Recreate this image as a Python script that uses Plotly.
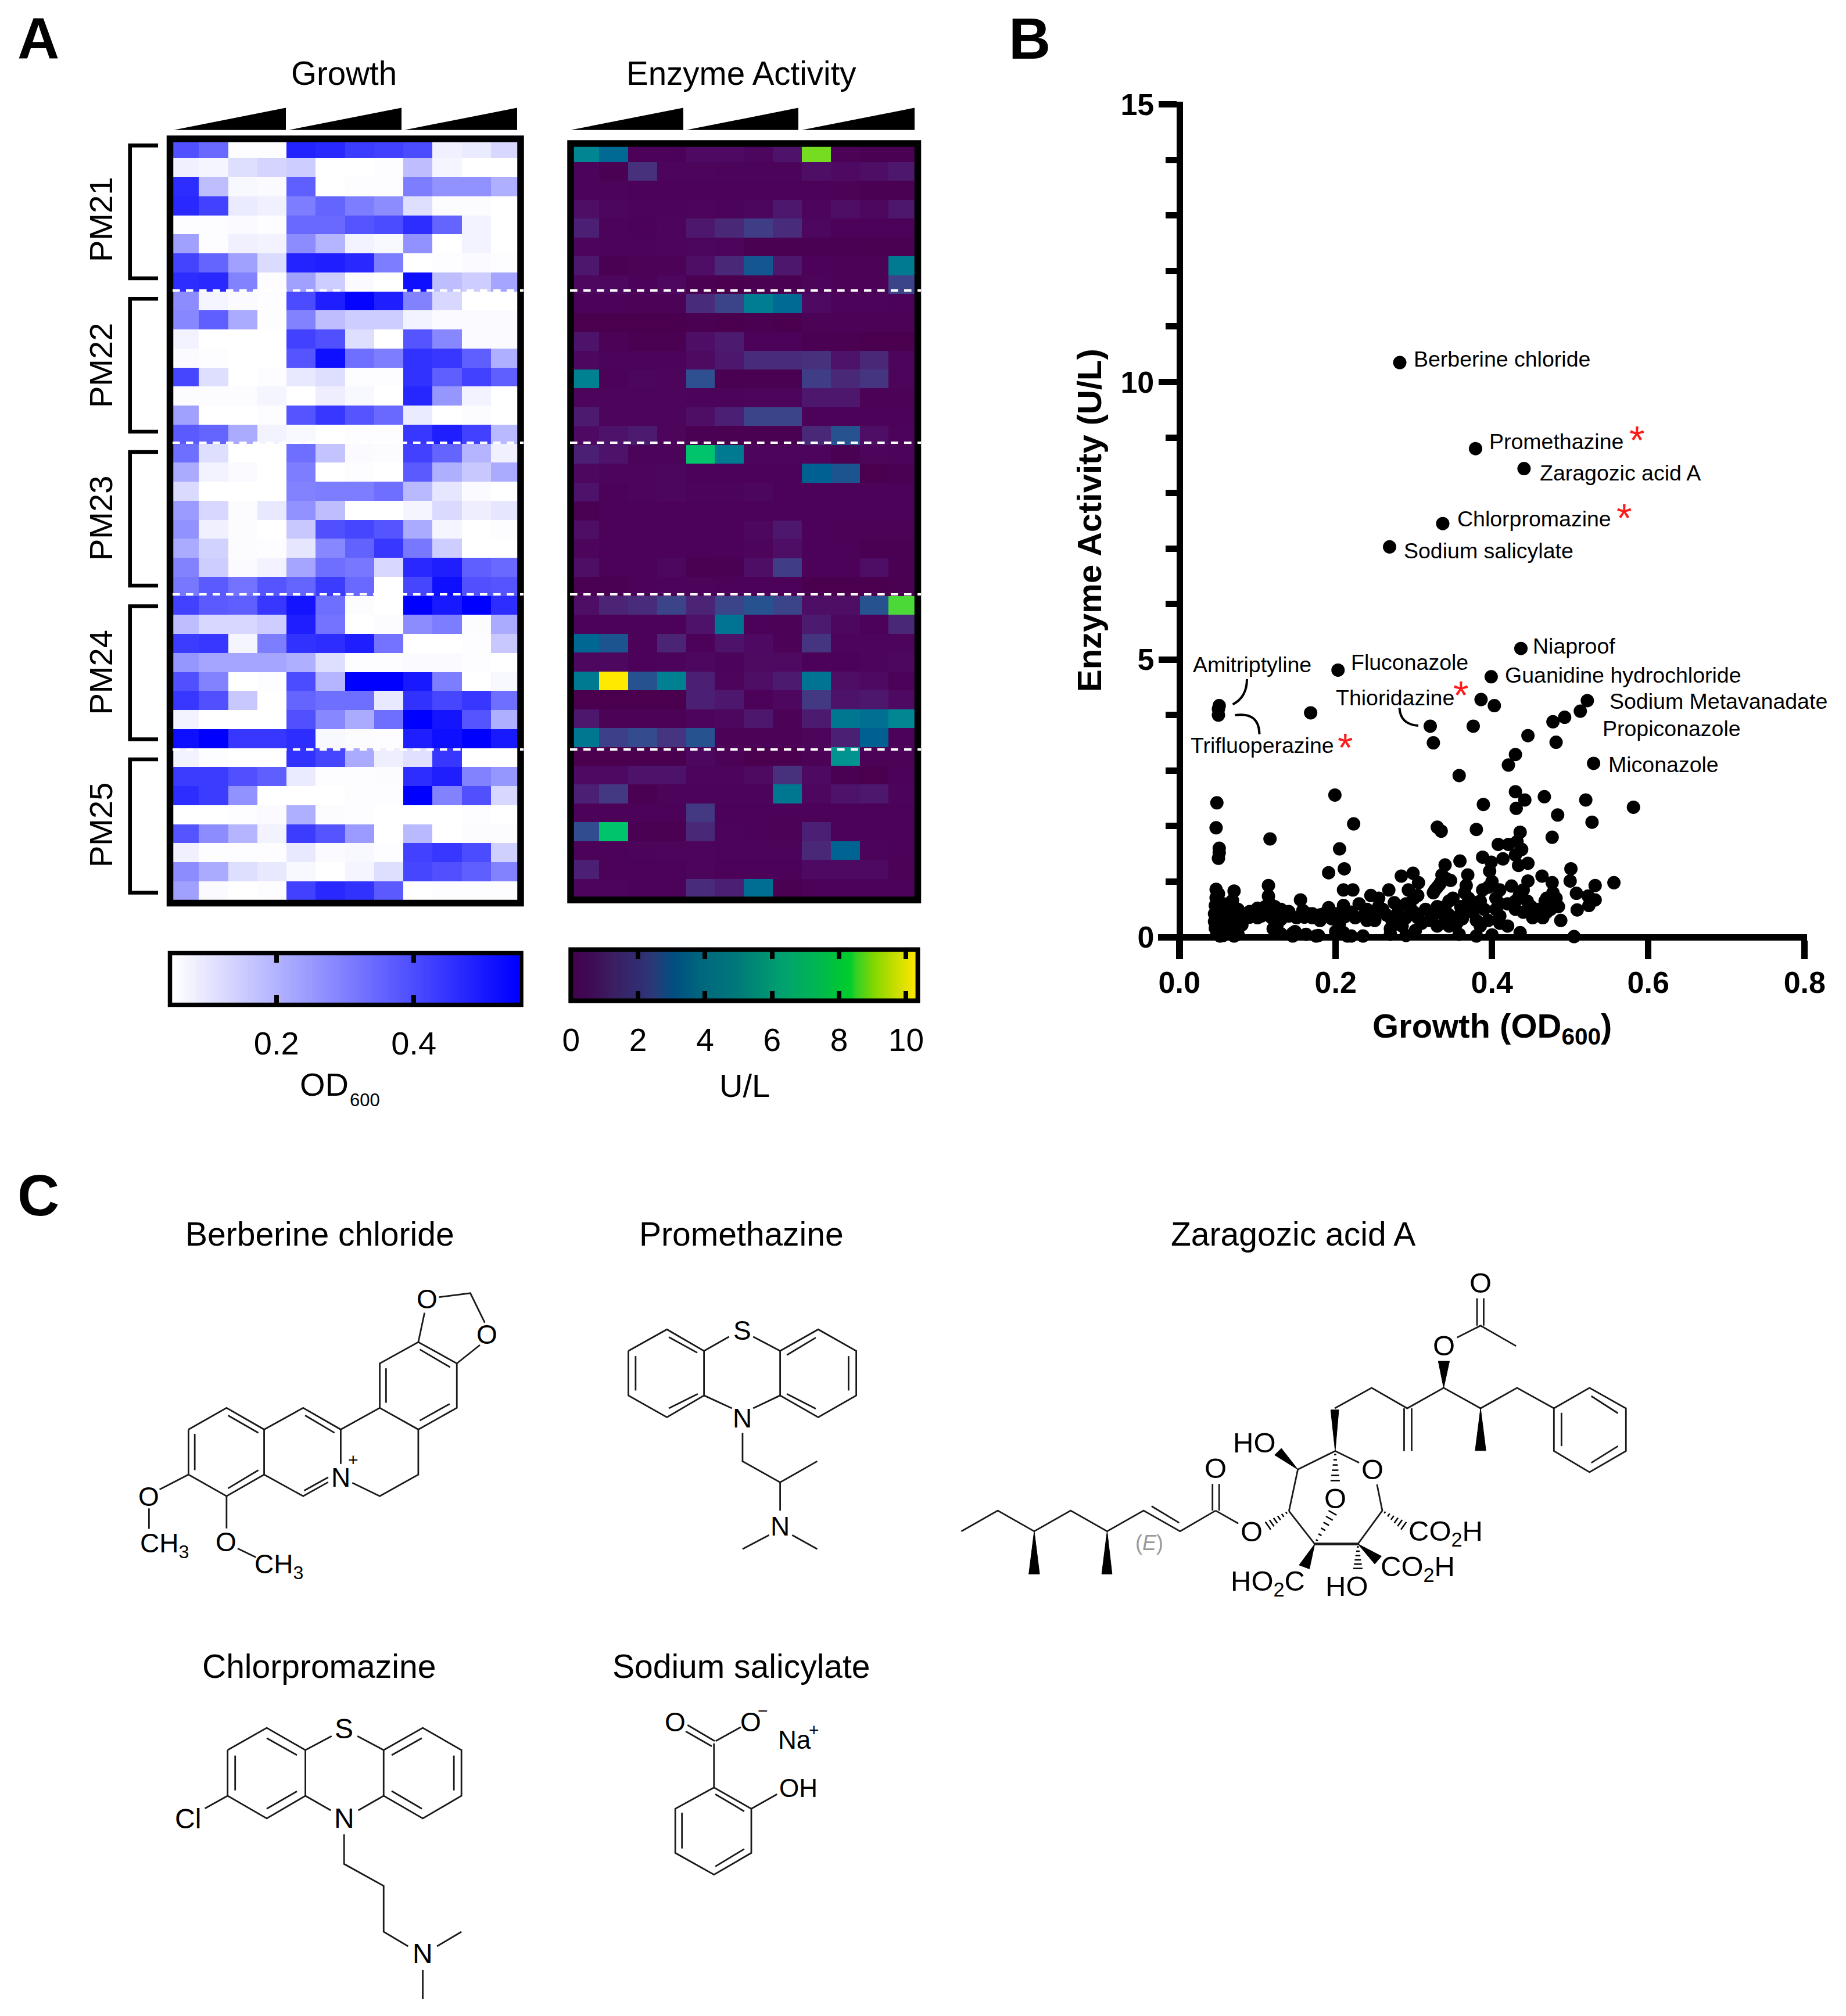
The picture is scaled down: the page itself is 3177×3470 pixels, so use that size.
import numpy as np
import plotly.graph_objects as go

W, H = 3177, 3470
FONT = "Liberation Sans"

# ---------- Growth (OD600) per plate, 8 compounds x 12 wells ----------
growth_pm21 = [
 [.393,.344,.054,.054,.481,.472,.432,.423,.403,.08,.09,.129],
 [.08,.07,.115,.134,.148,.05,.05,.054,.178,.07,.05,.05],
 [.462,.178,.064,.06,.364,.05,.054,.054,.305,.266,.266,.207],
 [.472,.423,.09,.08,.305,.354,.305,.276,.115,.056,.056,.05],
 [.054,.054,.06,.054,.344,.344,.383,.403,.462,.354,.074,.05],
 [.236,.054,.08,.074,.276,.197,.074,.064,.266,.05,.074,.05],
 [.417,.354,.236,.12,.481,.491,.472,.305,.05,.054,.06,.054],
 [.462,.472,.295,.054,.236,.148,.06,.05,.52,.178,.148,.227]]
growth_pm22 = [
 [.276,.07,.06,.054,.403,.491,.54,.491,.295,.129,.05,.05],
 [.285,.364,.217,.054,.295,.178,.148,.148,.074,.06,.06,.06],
 [.074,.05,.05,.05,.423,.393,.115,.05,.383,.285,.06,.06],
 [.06,.054,.05,.05,.383,.52,.334,.305,.452,.442,.364,.207],
 [.413,.115,.05,.054,.095,.115,.054,.054,.452,.364,.423,.364],
 [.056,.056,.056,.07,.05,.083,.064,.05,.475,.256,.074,.05],
 [.236,.05,.05,.054,.383,.442,.383,.344,.09,.05,.056,.05],
 [.374,.354,.217,.074,.064,.05,.054,.054,.442,.491,.423,.187]]
growth_pm23 = [
 [.334,.115,.05,.05,.334,.168,.06,.056,.423,.354,.197,.08],
 [.217,.074,.06,.05,.305,.05,.054,.05,.374,.207,.158,.217],
 [.123,.05,.05,.05,.295,.305,.305,.334,.187,.099,.06,.05],
 [.246,.129,.056,.095,.266,.178,.05,.05,.07,.123,.083,.099],
 [.266,.08,.056,.05,.158,.393,.413,.383,.217,.07,.05,.054],
 [.217,.138,.056,.054,.099,.285,.358,.442,.315,.148,.05,.05],
 [.295,.148,.06,.074,.227,.334,.315,.129,.472,.491,.364,.344],
 [.315,.374,.325,.383,.354,.432,.344,.05,.413,.52,.393,.383]]
growth_pm24 = [
 [.423,.374,.364,.442,.511,.334,.056,.05,.55,.501,.55,.462],
 [.178,.129,.129,.148,.491,.325,.05,.056,.276,.305,.056,.217],
 [.432,.442,.07,.305,.452,.462,.491,.325,.05,.05,.054,.158],
 [.256,.227,.227,.227,.207,.115,.054,.054,.06,.06,.054,.05],
 [.393,.295,.05,.054,.403,.197,.55,.55,.501,.305,.05,.064],
 [.442,.393,.158,.05,.354,.334,.334,.095,.452,.413,.442,.334],
 [.074,.05,.05,.05,.393,.285,.217,.334,.55,.511,.383,.207],
 [.52,.55,.442,.442,.462,.064,.056,.054,.491,.52,.55,.501]]
growth_pm25 = [
 [.074,.054,.05,.05,.452,.413,.217,.083,.109,.442,.05,.05],
 [.432,.432,.393,.364,.09,.054,.054,.056,.462,.491,.295,.256],
 [.462,.432,.266,.05,.05,.05,.054,.054,.55,.295,.393,.129],
 [.05,.05,.054,.06,.207,.056,.054,.05,.05,.05,.054,.05],
 [.383,.276,.197,.074,.432,.383,.246,.05,.187,.05,.056,.056],
 [.08,.054,.054,.054,.095,.06,.064,.054,.423,.442,.403,.142],
 [.276,.217,.115,.095,.064,.05,.07,.115,.413,.393,.364,.295],
 [.236,.06,.05,.054,.423,.472,.452,.374,.05,.054,.054,.054]]

# ---------- Enzyme activity (U/L) ----------
enzyme_pm21 = [
 [4.3,3.5,.2,.2,.5,.5,.35,.7,8.7,.15,.1,.1],
 [.25,.1,1.4,.3,.3,.25,.25,.25,.6,.5,.6,.8],
 [.25,.25,.2,.2,.2,.2,.2,.2,.2,.15,.1,.1],
 [.6,.35,.25,.25,.3,.25,.35,.8,.3,.6,.4,.8],
 [1.0,.25,.2,.3,.8,1.2,1.8,1.3,.4,.2,.2,.2],
 [.3,.25,.25,.3,.35,.3,.05,.05,.1,.1,.05,.05],
 [.8,.1,.15,.15,.6,1.2,2.8,.8,.2,.15,.15,4.0],
 [.4,.4,.2,.4,.05,.02,.05,.05,.25,.15,.15,2.0]]
enzyme_pm22 = [
 [.2,.2,.15,.15,1.3,2.0,4.1,3.5,.5,.25,.25,.2],
 [.02,.02,.02,.02,.05,.02,.05,.02,.15,.15,.15,.15],
 [.7,.15,.05,.05,.6,.9,.2,.2,.1,.05,.02,.02],
 [.4,.25,.25,.25,.45,.8,1.3,1.3,1.4,.7,1.2,.3],
 [4.2,.2,.35,.3,2.5,.05,.05,.05,1.8,1.2,1.5,.3],
 [.3,.3,.3,.3,.25,.25,.3,.3,.8,.8,.15,.15],
 [.9,.3,.3,.3,.6,1.0,2.0,2.0,.2,.2,.2,.2],
 [.5,.7,.9,.3,.1,.05,.05,.05,1.2,2.6,.6,.25]]
enzyme_pm23 = [
 [1.0,.7,.25,.25,7.6,4.0,.3,.3,.3,.1,.3,.25],
 [.4,.3,.3,.35,.2,.2,.2,.2,3.2,2.7,.02,.1],
 [.7,.2,.3,.35,.25,.25,.35,.2,.2,.2,.2,.2],
 [.1,.2,.2,.2,.2,.2,.2,.2,.2,.2,.2,.2],
 [.6,.2,.2,.2,.2,.2,.4,.8,.2,.15,.15,.15],
 [.3,.2,.2,.2,.2,.2,.3,.6,.2,.2,.1,.1],
 [.6,.2,.2,.4,.05,.1,.6,1.8,.2,.2,.6,.1],
 [.1,.1,.2,.25,.25,.2,.2,.2,.02,.02,.02,.05]]
enzyme_pm24 = [
 [.6,1.1,1.3,2.0,1.1,2.0,2.6,2.0,.6,.6,2.6,8.4],
 [.2,.2,.2,.2,.7,3.8,.2,.15,.9,.4,.2,1.2],
 [3.4,2.7,.2,1.1,.2,.7,.5,.15,1.5,.3,.3,.3],
 [.4,.4,.2,.25,.4,.25,.45,.45,.2,.2,.3,.4],
 [4.0,10.3,2.6,4.2,1.0,.3,.6,.9,3.8,.6,.5,.2],
 [.02,.02,.02,.02,1.0,.8,.2,.4,1.6,.7,.8,.5],
 [.8,.15,.15,.15,.3,.4,.8,.15,.9,3.9,3.7,4.4],
 [3.9,1.9,2.3,1.5,2.6,.15,.15,.15,.3,1.0,3.2,.2]]
enzyme_pm25 = [
 [.02,.02,.02,.02,.4,.15,.02,.02,.15,5.0,.15,.15],
 [.5,.5,.7,.7,.3,.3,.45,1.4,.5,.1,.02,.2],
 [1.0,1.6,.1,.25,.25,.25,.25,3.9,.4,.7,.8,.25],
 [.2,.2,.2,.2,1.6,.2,.2,.2,.2,.2,.2,.2],
 [2.4,7.6,.1,.05,1.2,.25,.2,.15,1.0,.2,.2,.2],
 [.2,.2,.25,.3,.3,.25,.25,.25,1.2,3.3,.25,.2],
 [1.0,.2,.2,.2,.3,.2,.2,.2,.5,.5,.5,.15],
 [.3,.3,.2,.2,1.3,1.0,3.6,.05,.2,.2,.2,.2]]

# ---------- Scatter: growth vs. enzyme activity ----------
scatter_high = [
 (.282,10.35),(.379,8.8),(.441,8.44),(.337,7.45),(.269,7.03),
 (.203,4.81),(.399,4.69),(.437,5.2),(.051,4.17),(.05,4.11),(.05,4.0),(.168,4.04),
 (.386,4.28),(.403,4.17),(.522,4.26),(.513,4.07),(.493,3.96),(.478,3.88),(.321,3.8),
 (.376,3.8),(.446,3.63),(.325,3.5),(.482,3.51),(.43,3.29),(.421,3.1),(.53,3.13),
 (.358,2.91),(.43,2.62),(.442,2.47),(.467,2.53),(.52,2.47),(.581,2.34),(.389,2.39),
 (.431,2.32),(.199,2.56),(.048,2.42),(.484,2.2),(.528,2.07),(.223,2.04),(.047,1.97),
 (.33,1.98),(.335,1.91),(.38,1.94),(.436,1.89),(.477,1.8),(.116,1.77),(.051,1.6),
 (.05,1.42),(.051,1.52),(.205,1.59),(.408,1.67),(.421,1.67),(.432,1.72),(.438,1.58),
 (.43,1.48),(.434,1.29),(.446,1.33),(.388,1.44),(.414,1.41),(.399,1.35),(.397,1.19),
 (.359,1.37),(.34,1.3),(.211,1.23),(.191,1.16),(.284,1.1),(.299,1.15),(.306,.98),
 (.336,1.12),(.347,1.02),(.333,.95),(.327,.85),(.369,1.12),(.367,.93),(.501,1.23),
 (.5,1.01),(.464,1.1),(.477,.98),(.446,1.01),(.556,.98),(.532,.93),(.508,.79),
 (.532,.67),(.523,.74),(.524,.57),(.509,.49),(.114,.93),(.114,.74)]
scatter_low = [
 (.047,.86),(.047,.71),(.046,.57),(.045,.42),(.045,.28),(.046,.16),(.05,.78),(.053,.62),(.05,.5),(.052,.35),
 (.05,.2),(.048,.05),(.052,.02),(.056,.03),(.058,.45),(.06,.3),(.055,.12),(.062,.6),(.07,.83),(.068,.66),
 (.067,.5),(.07,.35),(.068,.22),(.072,.1),(.07,.02),(.075,.05),(.08,.22),(.08,.4),(.085,.42),(.09,.36),
 (.095,.43),(.1,.52),(.105,.38),(.11,.55),(.115,.45),(.118,.35),(.122,.55),(.128,.42),(.13,.32),(.12,.15),
 (.125,.1),(.13,.06),(.115,.62),(.14,.38),(.145,.02),(.148,.1),(.15,.35),(.155,.67),(.158,.48),(.16,.36),
 (.162,.05),(.17,.35),(.178,.03),(.175,.02),(.18,.3),(.19,.38),(.191,.53),(.195,.33),(.2,.1),(.205,.25),
 (.21,.57),(.212,.37),(.215,.02),(.21,.85),(.222,.85),(.22,.45),(.225,.35),(.23,.6),(.235,.02),(.24,.5),
 (.24,.3),(.245,.75),(.25,.3),(.255,.7),(.26,.5),(.265,.4),(.268,.85),(.27,.15),(.27,.05),(.272,.3),
 (.275,.62),(.28,.45),(.285,.2),(.29,.03),(.29,.35),(.293,.85),(.295,.55),(.3,.7),(.302,.12),(.305,.35),
 (.305,.75),(.31,.25),(.315,.5),(.32,.3),(.325,.4),(.33,.2),(.33,.55),(.325,.8),(.33,.9),(.335,1.0),
 (.34,.55),(.342,1.05),(.345,.4),(.345,.2),(.35,.7),(.35,.3),(.355,.25),(.358,.05),(.36,.55),(.362,.33),
 (.365,.8),(.375,.55),(.375,.45),(.38,.02),(.38,.3),(.385,.65),(.385,.2),(.388,.85),(.39,.5),(.395,.9),
 (.4,.04),(.4,1.0),(.405,.7),(.405,.5),(.41,.85),(.41,.38),(.42,.6),(.425,.92),(.43,.5),(.435,.75),
 (.44,.85),(.44,.45),(.436,.08),(.445,.65),(.45,.55),(.452,.35),(.46,.5),(.465,.35),(.468,.65),(.47,.7),
 (.475,.5),(.478,.8),(.48,.6),(.482,.7),(.485,.55),(.488,.3),(.505,.01),(.42,.2),(.41,.25),(.395,.3),
 (.41,.6),(.36,.42),(.345,.65),(.28,.25),(.275,.35),(.29,.6),(.3,.45),(.25,.42),(.255,.55),(.235,.38),
 (.2,.42),(.185,.42),(.165,.42),(.14,.46),(.13,.5),(.1,.35),(.09,.46),(.075,.5),(.065,.4),(.12,.47),
 (.06,.55),(.05,.4),(.05,.65),(.055,.25),(.06,.18),(.145,.07),(.125,.22),(.18,.4),(.22,.02),(.21,.08),
 (.175,.38),(.17,.42),(.2,.35),(.33,.45),(.34,.35),(.37,.7),(.38,.62),(.43,.65),(.46,.42),(.47,.45)]
compound_labels = [
 ("Berberine chloride",2431,618),("Promethazine",2561,760),("Zaragozic acid A",2648,814),
 ("Chlorpromazine",2506,893),("Sodium salicylate",2414,948),("Niaproof",2636,1112),
 ("Amitriptyline",2051,1144),("Fluconazole",2323,1140),("Guanidine hydrochloride",2588,1162),
 ("Thioridazine",2297,1201),("Sodium Metavanadate",2768,1207),("Propiconazole",2756,1254),
 ("Trifluoperazine",2047,1283),("Miconazole",2766,1316)]
star_positions = [(2817,757),(2795,891),(2514,1196),(2315,1286)]

plates = ["PM21","PM22","PM23","PM24","PM25"]
growth_rows = growth_pm21+growth_pm22+growth_pm23+growth_pm24+growth_pm25
enzyme_rows = enzyme_pm21+enzyme_pm22+enzyme_pm23+enzyme_pm24+enzyme_pm25

growth_scale = [[0,"#ffffff"],[1,"#0000ff"]]
ENZ_MAX = 10.3
def nscale(st): return [[v/ENZ_MAX,c] for v,c in st]
enzyme_cell_scale = nscale([(0,"#4a004e"),(.2,"#4c0258"),(.5,"#4e0a62"),(.9,"#4c1b70"),(1.2,"#4a2878"),
 (1.5,"#453580"),(1.9,"#3d4088"),(2.5,"#2f5090"),(3,"#005a90"),(3.5,"#006a94"),(4,"#007a90"),
 (4.3,"#008592"),(5,"#009390"),(6,"#00a880"),(7.6,"#00c46b"),(8.4,"#4bd938"),(8.7,"#75dc1f"),(10.3,"#ffe900")])
enzyme_bar_scale = nscale([(0,"#45004f"),(.6,"#3f0b55"),(1.28,"#3a1f62"),(2,"#322c72"),(2.47,"#2a3a78"),
 (3.07,"#004f80"),(3.93,"#00687e"),(4.93,"#00787a"),(5.6,"#008b74"),(6.25,"#00a070"),(7.25,"#00b455"),
 (8.37,"#00ce28"),(8.5,"#30d025"),(9.1,"#88d800"),(9.7,"#c8de00"),(10.3,"#ffe600")])

def dx(a,b): return [a/W,b/W]
def dy(a,b): return [1-b/H,1-a/H]

fig = go.Figure()
cells = list(range(12)); rows = list(range(40))
fig.add_trace(go.Heatmap(z=growth_rows,x=cells,y=rows,zmin=.05,zmax=.55,colorscale=growth_scale,showscale=False,xaxis="x",yaxis="y"))
fig.add_trace(go.Heatmap(z=enzyme_rows,x=cells,y=rows,zmin=0,zmax=ENZ_MAX,colorscale=enzyme_cell_scale,showscale=False,xaxis="x2",yaxis="y2"))
od_ramp = np.linspace(.048,.553,300)
fig.add_trace(go.Heatmap(z=[od_ramp],x=od_ramp,y=[.5],dy=1,zmin=.05,zmax=.55,colorscale=growth_scale,showscale=False,xaxis="x3",yaxis="y3"))
ul_ramp = np.linspace(0,10.3,400)
fig.add_trace(go.Heatmap(z=[ul_ramp],x=ul_ramp,y=[.5],dy=1,zmin=0,zmax=ENZ_MAX,colorscale=enzyme_bar_scale,showscale=False,xaxis="x4",yaxis="y4"))
pts = scatter_low+scatter_high
fig.add_trace(go.Scatter(x=[p[0] for p in pts],y=[p[1] for p in pts],mode="markers",marker=dict(size=23,color="black"),cliponaxis=False,xaxis="x5",yaxis="y5",showlegend=False))

# ---------- chemical structures (zoomed-crop coordinates) ----------
def z8(X,Y): return (200+X/1.206,2160+Y/2.613)
def z9(X,Y): return (1620+X/1.307,2160+Y/2.613)
def z10(X,Y): return (280+X/1.307,2960+Y/3)
def z12(X,Y): return (1080+X/3,2840+Y/3)

berberine = [
 [(150,785),(229,688),(307,785),(307,988),(229,1085),(150,988),(150,785)],
 [(163,805),(163,968)],[(232,722),(295,800)],[(295,968),(232,1050)],
 [(307,785),(388,688),(466,785),(466,940)],[(392,722),(453,800)],
 [(307,988),(388,1085),(440,1022)],[(390,1060),(440,1000)],
 [(466,785),(547,688),(627,785),(627,988),(547,1085),(490,1025)],
 [(547,688),(547,488),(627,392),(707,488),(707,688),(627,785)],
 [(560,665),(560,510)],[(630,425),(693,505)],[(692,670),(630,745)],
 [(627,392),(640,260)],[(707,488),(755,405)],[(670,190),(735,172),(765,305)],
 [(150,988),(90,1055)],[(68,1140),(68,1232)],[(229,1085),(229,1230)],[(252,1320),(290,1360)]]
promethazine = [
 [(1063,432),(1143,335),(1220,432),(1220,632),(1143,730),(1063,632),(1063,432)],
 [(1378,432),(1457,335),(1536,432),(1536,632),(1457,730),(1378,632),(1378,432)],
 [(1220,432),(1272,368)],[(1378,432),(1322,368)],[(1220,632),(1278,690)],[(1378,632),(1322,690)],
 [(1078,455),(1078,610)],[(1147,370),(1206,440)],[(1207,625),(1147,690)],
 [(1392,450),(1452,372)],[(1520,455),(1520,610)],[(1452,692),(1392,625)],
 [(1300,800),(1300,928),(1378,1023),(1455,928)],[(1378,1023),(1378,1150)],
 [(1355,1260),(1300,1323)],[(1403,1260),(1455,1323)]]
zaragozic = [
 [(45,1243),(127,1150),(209,1243),(291,1150),(373,1243),(455,1150),(537,1243),(617,1150)],
 [(473,1130),(535,1205)],[(610,1150),(610,1030)],[(625,1150),(625,1030)],[(617,1150),(668,1208)],
 [(782,1152),(840,1300),(937,1300),(992,1150),(980,1032)],[(940,935),(886,882),(802,965),(782,1152)],
 [(840,1298),(937,1298)],[(840,1302),(937,1302)],
 [(885,690),(968,598),(1048,690),(1130,598),(1213,690),(1295,598),(1378,690)],
 [(1041,690),(1041,882)],[(1058,690),(1058,882)],
 [(1160,372),(1213,318),(1293,410)],[(1205,318),(1205,195)],[(1220,318),(1220,195)],
 [(1378,690),(1458,598),(1540,690),(1540,882),(1458,977),(1378,882),(1378,690)],
 [(1462,635),(1522,712)],[(1522,860),(1462,935)],[(1395,710),(1395,860)]]
zaragozic_wedges = [
 [(209,1243),(197,1435),(221,1435)],[(373,1243),(361,1435),(384,1435)],
 [(802,965),(750,900),(765,870)],[(886,882),(876,697),(894,697)],
 [(1130,598),(1118,478),(1143,478)],[(1213,690),(1201,880),(1225,880)],
 [(840,1300),(805,1395),(828,1412)],[(937,1300),(975,1390),(990,1355)]]
zaragozic_hashes = [((782,1152),(735,1218)),((886,882),(886,1015)),((840,1300),(880,1160)),
 ((937,1300),(937,1410)),((992,1150),(1040,1218))]
chlorpromazine = [
 [(146,157),(234,42),(321,157),(321,393),(234,510),(146,393),(146,157)],
 [(497,157),(585,42),(672,157),(672,393),(585,510),(497,393),(497,157)],
 [(321,157),(380,85)],[(497,157),(438,85)],[(321,393),(378,468)],[(497,393),(440,468)],[(146,393),(95,458)],
 [(163,185),(163,365)],[(234,95),(302,183)],[(302,370),(234,460)],[(515,183),(583,95)],[(655,185),(655,365)],[(515,368),(583,460)],
 [(408,592),(408,745),(497,858),(497,1095),(552,1170)],[(617,1170),(672,1095)],[(585,1293),(585,1443)]]
salicylate_ring = [
 [(1240,122),(1240,350),(1324,460),(1324,688),(1240,800),(1153,688),(1153,460),(1240,350)],
 [(1243,385),(1308,473)],[(1308,668),(1243,758)],[(1168,480),(1168,665)],[(1324,460),(1382,385)]]
salicylate_acid = [[(310,388),(450,470)],[(300,420),(435,497)],[(585,398),(455,470)]]

bx,by=[],[]
def add_bonds(chains,conv):
    for ch in chains:
        for p in ch:
            a,b=conv(*p); bx.append(a); by.append(b)
        bx.append(None); by.append(None)
add_bonds(berberine,z8); add_bonds(promethazine,z8); add_bonds(zaragozic,z9)
add_bonds(chlorpromazine,z10); add_bonds(salicylate_ring,z10); add_bonds(salicylate_acid,z12)
hx,hy=[],[]
for a,b in zaragozic_hashes:
    a=np.array(z9(*a)); b=np.array(z9(*b)); d=b-a; L=np.hypot(*d); n=np.array([-d[1],d[0]])/L
    for t in np.linspace(.12,1,6):
        c=a+d*t; w=1+7*t
        hx+= [c[0]-n[0]*w,c[0]+n[0]*w,None]; hy+=[c[1]-n[1]*w,c[1]+n[1]*w,None]
fig.add_trace(go.Scatter(x=bx,y=by,mode="lines",line=dict(color="#1a1a1a",width=2.8),xaxis="x6",yaxis="y6",showlegend=False,hoverinfo="skip"))
fig.add_trace(go.Scatter(x=hx,y=hy,mode="lines",line=dict(color="black",width=2.5),xaxis="x6",yaxis="y6",showlegend=False,hoverinfo="skip"))
wx,wy=[],[]
for w in zaragozic_wedges:
    for p in w+[w[0]]:
        a,b=z9(*p); wx.append(a); wy.append(b)
    wx.append(None); wy.append(None)
fig.add_trace(go.Scatter(x=wx,y=wy,mode="lines",fill="toself",fillcolor="black",line=dict(color="black",width=1),xaxis="x6",yaxis="y6",showlegend=False,hoverinfo="skip"))

# ---------- annotations ----------
ann=[]
def T(text,x,y,size,xa="center",ya="middle",color="black",weight=None,angle=0):
    f=dict(family=FONT,size=size,color=color)
    if weight: f["weight"]=weight
    ann.append(dict(text=text,x=x,y=y,xref="x6",yref="y6",xanchor=xa,yanchor=ya,showarrow=False,font=f,textangle=angle))
for t,x,y in [("A",66,66),("B",1772,66),("C",66,2057)]: T(t,x,y,100,weight=700)
T("Growth",592,126,56.5); T("Enzyme Activity",1276,126,56.5)
for t,y in zip(plates,[378,629,892,1157.5,1420]): T(t,173,y,56,angle=-90)
T("OD",558,1866,56); T("600",628,1893,31); T("U/L",1281,1868,56)
for t,x,y in compound_labels: T(t,x,y,37.5,xa="left")
for x,y in star_positions: T("*",x,y,68,color="#ff1a1a")
for t,x,y in [("Berberine chloride",550,2124),("Promethazine",1276,2124),("Zaragozic acid A",2225,2124),("Chlorpromazine",549,2868),("Sodium salicylate",1276,2868)]:
    T(t,x,y,57)
T("Growth (OD<sub>600</sub>)",2568,1770,58,weight=700)
T("Enzyme Activity (U/L)",1874,896,58,weight=700,angle=-90)
for t,p in [("O",(645,198)),("O",(770,358)),("N",(466,1000)),("+",(492,920)),("O",(68,1088)),("O",(228,1290)),
            ("CH<sub>3</sub>",(100,1305)),("CH<sub>3</sub>",(338,1400)),("S",(1300,340)),("N",(1300,735)),("N",(1378,1220))]:
    a,b=z8(*p); T(t,a,b,46 if t!="+" else 30)
for t,p in [("O",(617,960)),("O",(698,1245)),("O",(970,965)),("O",(886,1095)),("HO",(705,845)),("HO<sub>2</sub>C",(735,1475)),
            ("HO",(912,1490)),("CO<sub>2</sub>H",(1072,1410)),("CO<sub>2</sub>H",(1135,1250)),("O",(1130,408)),("O",(1213,125))]:
    a,b=z9(*p); T(t,a,b,49)
a,b=z9(468,1295); T("(<i>E</i>)",a,b,36,color="#999999")
for t,p,s in [("S",(408,45),48),("N",(408,508),48),("Cl",(57,510),48),("N",(585,1208),48),("OH",(1430,352),44)]:
    a,b=z10(*p); T(t,a,b,s)
T("O",1162,2964,46); T("O",1292,2964,46); T("\u2212",1313,2944,30)
T("Na",1367,2994,44); T("+",1401,2977,30)

# ---------- shapes ----------
sh=[]
def frame(x0,y0,x1,y1,w): sh.append(dict(type="rect",xref="x6",yref="y6",x0=x0,y0=y0,x1=x1,y1=y1,line=dict(color="black",width=w),fillcolor="rgba(0,0,0,0)"))
frame(292.5,239,896,1554.5,11.5); frame(982,247,1579.5,1549,11.5)
frame(292.5,1640.5,897,1729.5,7.5); frame(982.3,1634.5,1579.5,1722.5,8)
for a,b in [(299,492),(497,691),(696,890),(982,1176),(1181,1374),(1380,1574)]:
    sh.append(dict(type="path",xref="x6",yref="y6",path=f"M{a},223.7 L{b},185.6 L{b},223.7 Z",fillcolor="black",line=dict(width=0)))
for y in [500,762,1023,1290]:
    for a,b in [(297,901),(981,1585)]:
        sh.append(dict(type="line",xref="x6",yref="y6",x0=a,x1=b,y0=y,y1=y,line=dict(color="white",width=4,dash="12.6px,10.4px")))
for a,b in [(250.4,479),(514.3,743),(778,1008),(1043.5,1272.5),(1307,1536.5)]:
    sh.append(dict(type="path",xref="x6",yref="y6",path=f"M272,{a} L223.7,{a} L223.7,{b} L272,{b}",line=dict(color="black",width=6.6)))
for p in ["M2146,1169 Q2146,1200 2121.5,1212.5","M2125.4,1231 Q2167,1225 2167.5,1264","M2408.5,1218.5 Q2410,1247 2441,1249"]:
    sh.append(dict(type="path",xref="x6",yref="y6",path=p,line=dict(color="black",width=4)))

hidden=dict(visible=False,fixedrange=True)
bold=dict(family=FONT,size=52,color="black",weight=700)
fig.update_layout(
 width=W,height=H,margin=dict(l=0,r=0,t=0,b=0,pad=0,autoexpand=False),paper_bgcolor="white",plot_bgcolor="rgba(0,0,0,0)",
 showlegend=False,font=dict(family=FONT,color="black"),annotations=ann,shapes=sh,
 xaxis=dict(domain=dx(292,894.5),range=[-.5,11.5],**hidden),
 yaxis=dict(domain=dy(239.5,1549),range=[39.5,-.5],**hidden),
 xaxis2=dict(domain=dx(981.3,1578.8),range=[-.5,11.5],anchor="y2",**hidden),
 yaxis2=dict(domain=dy(246.3,1545),range=[39.5,-.5],anchor="x2",**hidden),
 xaxis3=dict(domain=dx(296,893),range=[.048,.553],anchor="y3",tickvals=[.2,.4],ticktext=["0.2","0.4"],ticks="inside",ticklen=13,tickwidth=8,tickcolor="black",
             mirror="ticks",showline=False,showgrid=False,zeroline=False,tickfont=dict(family=FONT,size=56,color="black"),ticklabelstandoff=32,fixedrange=True),
 yaxis3=dict(domain=dy(1644,1726),range=[0,1],anchor="x3",**hidden),
 xaxis4=dict(domain=dx(982.8,1575),range=[0,10.27],anchor="y4",tickvals=[0,2,4,6,8,10],ticks="inside",ticklen=13,tickwidth=8,tickcolor="black",
             mirror="ticks",showline=False,showgrid=False,zeroline=False,tickfont=dict(family=FONT,size=55,color="black"),ticklabelstandoff=34,fixedrange=True),
 yaxis4=dict(domain=dy(1638,1719),range=[0,1],anchor="x4",**hidden),
 xaxis5=dict(domain=dx(1993,3110),range=[(1993-2029.7)/1345.1,(3110-2029.7)/1345.1],anchor="free",position=1-1613/H,
             dtick=.2,tick0=0,tickformat=".1f",ticks="outside",ticklen=32,tickwidth=10.7,tickcolor="black",showline=True,linewidth=11,linecolor="black",
             showgrid=False,zeroline=False,tickfont=bold,ticklabelstandoff=-4,fixedrange=True),
 yaxis5=dict(domain=dy(174.6,1651),range=[(1613-1651)/95.55,(1613-174.6)/95.55],anchor="free",position=2029.7/W,
             dtick=5,tick0=0,ticks="outside",ticklen=31,tickwidth=11,tickcolor="black",showline=True,linewidth=11,linecolor="black",
             minor=dict(dtick=1,tick0=0,ticks="outside",ticklen=19,tickwidth=11,tickcolor="black",showgrid=False),
             showgrid=False,zeroline=False,tickfont=bold,ticklabelstandoff=-3,fixedrange=True),
 xaxis6=dict(domain=[0,1],range=[0,W],anchor="y6",**hidden),
 yaxis6=dict(domain=[0,1],range=[H,0],anchor="x6",**hidden),
)
fig.write_html("out.html",post_script="document.body.style.margin='0';",config=dict(displayModeBar=False))
